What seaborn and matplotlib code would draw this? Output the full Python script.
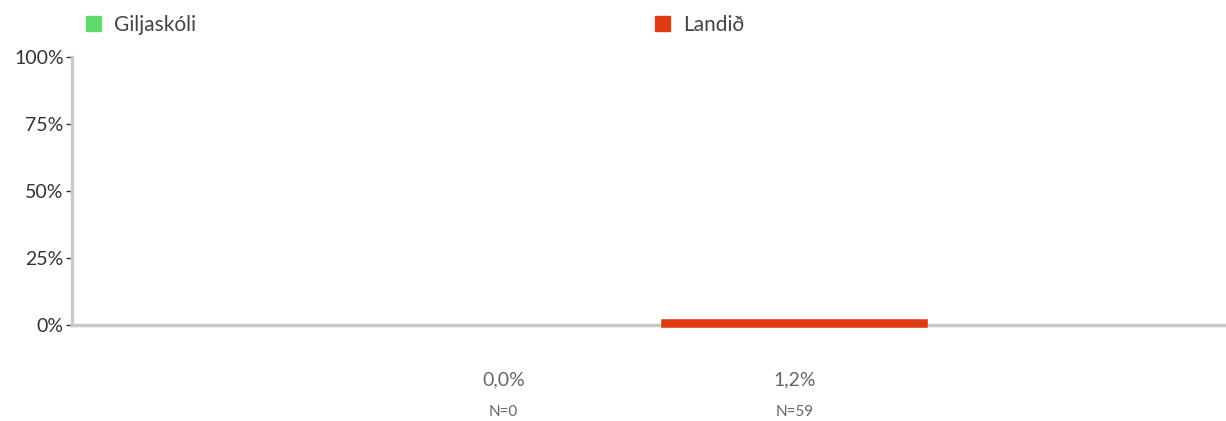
import matplotlib
matplotlib.use('Agg')
from matplotlib import pyplot as plt
import seaborn as sns
import pandas as pd

# data
groups = ["Giljaskóli", "Landið"]
values = [0.0, 1.2]
counts = [0, 59]
colors = ["#5fd96a", "#e03a14"]
yticks = [0, 25, 50, 75, 100]

sns.set_style("white")
plt.rcParams['font.family'] = ['Lato', 'DejaVu Sans']

df = pd.DataFrame({"cat": [""] * len(groups), "group": groups, "value": values})

fig = plt.figure(figsize=(12.26, 4.21), dpi=100)
ax = fig.add_axes([0.0587, 0.228, 0.9413, 0.6365])

sns.barplot(data=df, x="cat", y="value", hue="group", hue_order=groups,
            palette=colors, width=0.504, gap=0.1, ax=ax, legend=False,
            linewidth=4, saturation=1)
for p, c, v in zip(ax.patches, colors, values):
    p.set_edgecolor(c)
    p.set_zorder(3)
    p.set_clip_on(False)
    if v == 0:
        p.set_linewidth(0)

ax.set_xlim(-0.5, 0.5)
ax.set_ylim(0, 100)
ax.set_yticks(yticks)
ax.set_yticklabels([f"{t}%" for t in yticks], fontsize=14, color="#333333")
ax.tick_params(axis="y", length=4, width=1, color="#333333", pad=2, left=True)
ax.set_xticks([])
ax.set_xlabel("")
ax.set_ylabel("")
for side in ["top", "right"]:
    ax.spines[side].set_visible(False)
for side in ["left", "bottom"]:
    ax.spines[side].set_color("#c8c8c8")
    ax.spines[side].set_linewidth(2.5)

# value labels under bars
bars = ax.patches[:len(groups)]
for p, v, n in zip(bars, values, counts):
    xc = p.get_x() + p.get_width() / 2
    ax.text(xc, -0.205, f"{v:.1f}%".replace(".", ","), transform=ax.get_xaxis_transform(),
            ha="center", va="center", fontsize=14, color="#666666")
    ax.text(xc, -0.325, f"N={n}", transform=ax.get_xaxis_transform(),
            ha="center", va="center", fontsize=11, color="#666666")

# legend, one entry per group
legend_x = [0.058, 0.522]
for g, c, lx in zip(groups, colors, legend_x):
    leg = fig.legend([plt.Rectangle((0, 0), 1, 1, color=c)], [g], loc="upper left",
                     bbox_to_anchor=(lx, 1.0), frameon=False, fontsize=15,
                     handlelength=0.75, handleheight=0.75, handletextpad=0.6,
                     borderaxespad=0.3, labelcolor="#444444")

fig.savefig("out.png", dpi=100)
